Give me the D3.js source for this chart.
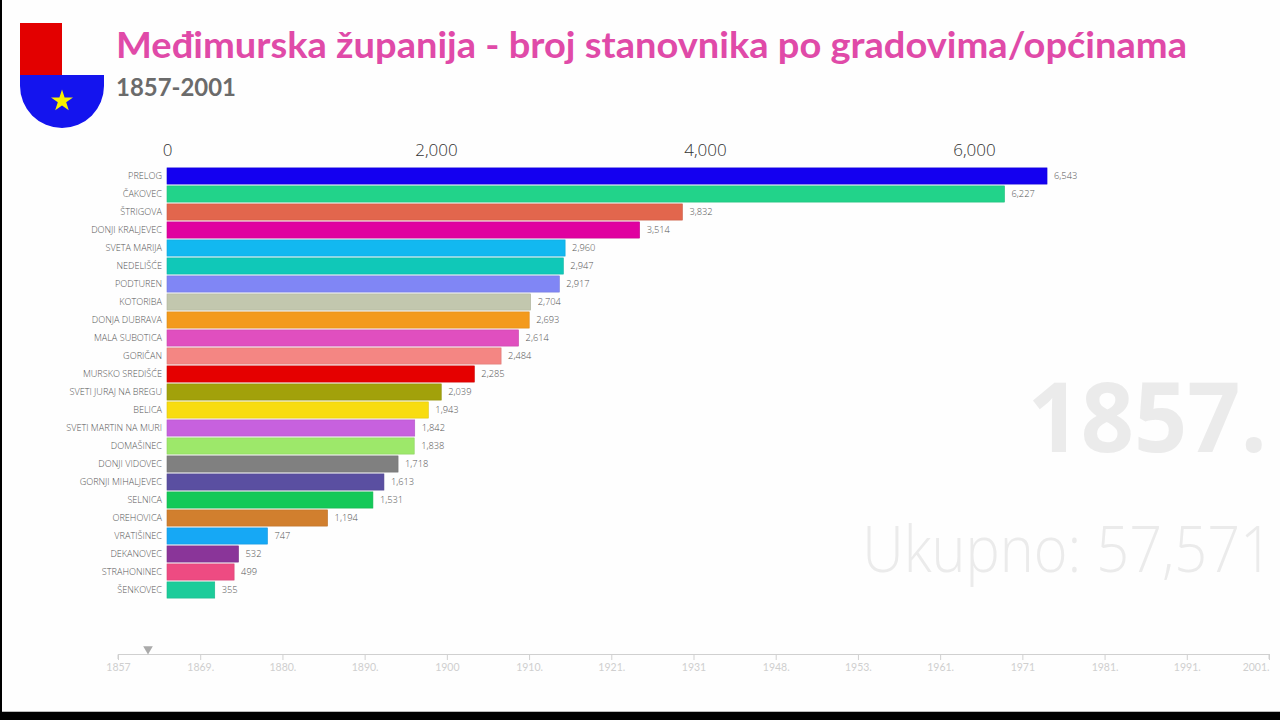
<!DOCTYPE html>
<html><head><meta charset="utf-8">
<script src="https://cdn.jsdelivr.net/npm/d3@7"></script>
<style>
html,body{margin:0;padding:0;background:#000;}
svg{display:block;}
</style>
</head><body>
<svg id="chart" width="1280" height="720"></svg>
<script>
const categories = ["PRELOG","ČAKOVEC","ŠTRIGOVA","DONJI KRALJEVEC","SVETA MARIJA","NEDELIŠĆE","PODTUREN","KOTORIBA","DONJA DUBRAVA","MALA SUBOTICA","GORIČAN","MURSKO SREDIŠĆE","SVETI JURAJ NA BREGU","BELICA","SVETI MARTIN NA MURI","DOMAŠINEC","DONJI VIDOVEC","GORNJI MIHALJEVEC","SELNICA","OREHOVICA","VRATIŠINEC","DEKANOVEC","STRAHONINEC","ŠENKOVEC"];
const values = [6543,6227,3832,3514,2960,2947,2917,2704,2693,2614,2484,2285,2039,1943,1842,1838,1718,1613,1531,1194,747,532,499,355];
const colors = ["#1400f0","#22d38a","#e2664d","#e000a0","#12b8f0","#10c8b8","#8086f5","#c2c7ae","#f39a1c","#e04fbf","#f48683","#e50000","#a2a10a","#f8dc10","#c761de","#9de86a","#808080","#5a4fa1","#14c958","#d17f2e","#16a8f5","#8a3599","#ee4b82","#1ccc9a"];
const axisTicks = [0,2000,4000,6000];
const timelineYears = ["1857","1869","1880","1890","1900","1910","1921","1931","1948","1953","1961","1971","1981","1991","2001"];
const timelineLabels = ["1857","1869.","1880.","1890.","1900","1910.","1921.","1931","1948.","1953.","1961.","1971","1981.","1991.","2001."];
const currentYear = "1857";
const title = "Međimurska županija - broj stanovnika po gradovima/općinama";
const subtitle = "1857-2001";

const svg = d3.select("#chart");
svg.append("rect").attr("x",2).attr("y",0).attr("width",1278).attr("height",712).attr("fill","#fefefe");
svg.append("line").attr("x1",2).attr("x2",1280).attr("y1",711.5).attr("y2",711.5).attr("stroke","#bbb");

// logo
const logo = svg.append("g");
logo.append("rect").attr("x",20).attr("y",23).attr("width",42).attr("height",52).attr("fill","#e30000");
logo.append("path").attr("d","M20,75 H104 V86 A42,42 0 0 1 20,86 Z").attr("fill","#1414ee");
const star = d3.symbol().type(d3.symbolStar).size(150);
logo.append("path").attr("d",star()).attr("transform","translate(62,101)").attr("fill","#f8f000");

svg.append("text").attr("x",116).attr("y",58).text(title)
  .attr("font-family","Lato, 'Open Sans', sans-serif").attr("font-weight",700).attr("font-size",36).attr("fill","#e04aa8")
  .attr("textLength",1071).attr("lengthAdjust","spacingAndGlyphs");
svg.append("text").attr("x",116).attr("y",96).text(subtitle)
  .attr("font-family","Lato, 'Open Sans', sans-serif").attr("font-weight",700).attr("font-size",24).attr("fill","#6b6b6b")
  .attr("textLength",120).attr("lengthAdjust","spacingAndGlyphs");

// scales
const x = d3.scaleLinear().domain([0,6000]).range([167,974]);
const y = d3.scaleBand().domain(categories).range([167,599]).paddingInner(0.1).paddingOuter(0.05);

const xAxis = d3.axisTop(x).tickValues(axisTicks).tickFormat(d3.format(",")).tickSize(0);
const gx = svg.append("g").attr("transform","translate(0,159)").call(xAxis);
gx.select(".domain").remove();
gx.selectAll("text").attr("font-family","'Open Sans', Lato, sans-serif").attr("font-size",17).attr("fill","#333").attr("font-weight",300);

const data = categories.map((c,i)=>({name:c,value:values[i],color:colors[i]}));

svg.append("g").selectAll("rect").data(data).join("rect")
  .attr("x",x(0)).attr("y",d=>y(d.name)).attr("width",d=>x(d.value)-x(0)).attr("height",y.bandwidth())
  .attr("fill",d=>d.color).attr("stroke",d=>d3.color(d.color).darker(0.3)).attr("stroke-width",0.6);

const yAxis = d3.axisLeft(y).tickSize(0).tickPadding(5);
const gy = svg.append("g").attr("transform",`translate(${x(0)},0)`).call(yAxis);
gy.select(".domain").remove();
gy.selectAll("text").attr("font-family","'Open Sans', Lato, sans-serif").attr("font-size",9.1).attr("fill","#555").attr("font-weight",300);

svg.append("g").selectAll("text").data(data).join("text")
  .attr("x",d=>x(d.value)+7).attr("y",d=>y(d.name)+y.bandwidth()/2).attr("dy","0.35em")
  .text(d=>d3.format(",")(d.value))
  .attr("font-family","'Open Sans', Lato, sans-serif").attr("font-size",9.3).attr("fill","#555").attr("font-weight",300);

// big year and total (horizontally condensed via transform)
svg.append("g").attr("transform","translate(1267,452) scale(0.96,1)")
  .append("text").attr("x",0).attr("y",0).attr("text-anchor","end").text(currentYear+".")
  .attr("font-family","'Open Sans', Lato, sans-serif").attr("font-weight",700).attr("font-size",97).attr("fill","#ebebeb");
svg.append("g").attr("transform","translate(1273,572) scale(0.9,1)")
  .append("text").attr("x",0).attr("y",0).attr("text-anchor","end").text("Ukupno: "+d3.format(",")(d3.sum(values)))
  .attr("font-family","'Open Sans', Lato, sans-serif").attr("font-weight",300).attr("font-size",64).attr("fill","#ebebeb");

// timeline
const t = d3.scalePoint().domain(timelineYears).range([118,1269]);
const tAxis = d3.axisBottom(t).tickSize(5).tickFormat((d,i)=>timelineLabels[i]);
const gt = svg.append("g").attr("transform","translate(0,654)").call(tAxis);
gt.select(".domain").attr("stroke","#d0d0d0").attr("d","M118,5V0.5H1269V5");
gt.selectAll(".tick line").attr("stroke","#d0d0d0").attr("y1",0).attr("y2",6);
gt.selectAll("text").attr("font-family","Lato, 'Open Sans', sans-serif").attr("font-size",10.5).attr("fill","#cfcfcf").attr("dy","0.9em");
gt.selectAll(".tick").filter(d=>d===timelineYears[timelineYears.length-1]).select("text").attr("text-anchor","end").attr("x",0);
const tri = d3.symbol().type(d3.symbolTriangle).size(40);
svg.append("path").attr("d",tri()).attr("transform",`translate(${t(currentYear)+30},649) rotate(180)`).attr("fill","#aaa");
</script>
</body></html>
